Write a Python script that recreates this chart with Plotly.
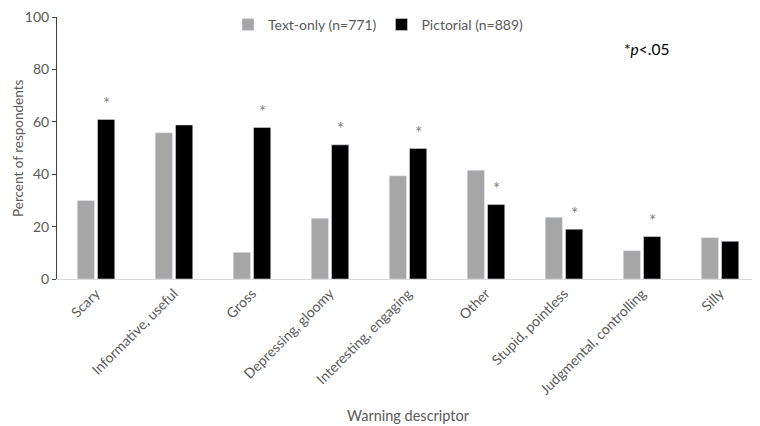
import plotly.graph_objects as go

categories = [
    "Scary", "Informative, useful", "Gross", "Depressing, gloomy",
    "Interesting, engaging", "Other", "Stupid, pointless",
    "Judgmental, controlling", "Silly",
]
text_only = [30.0, 55.8, 10.2, 23.2, 39.4, 41.5, 23.6, 10.8, 15.8]
pictorial = [60.9, 58.8, 57.8, 51.2, 49.8, 28.4, 19.0, 16.2, 14.4]
significant = [True, False, True, True, True, True, True, True, False]

_FONT = "Lato, 'Open Sans', sans-serif"
_GREY_TXT = "#595959"

fig = go.Figure()
fig.add_trace(go.Bar(
    x=categories, y=text_only, name="Text-only (n=771)",
    marker_color="#A6A6A6",
))
fig.add_trace(go.Bar(
    x=categories, y=pictorial, name="Pictorial (n=889)",
    marker_color="#000000",
))

# significance markers above the pictorial bars
for cat, val, sig in zip(categories, pictorial, significant):
    if not sig:
        continue
    fig.add_annotation(
        x=cat, y=val, text="*", showarrow=False,
        xshift=10, yshift=16,
        font=dict(family=_FONT, size=17, color="#808080"),
    )

fig.add_annotation(
    x=0.84, y=0.879, xref="paper", yref="paper", text="*<i>p</i>&lt;.05",
    showarrow=False, xanchor="center", yanchor="middle",
    font=dict(family=_FONT, size=15.5, color="#000000"),
)
# axis titles placed by hand so the rotated tick labels don't push them around
fig.add_annotation(
    x=0.5, y=-0.521, xref="paper", yref="paper", text="Warning descriptor",
    showarrow=False, xanchor="center", yanchor="middle",
    font=dict(family=_FONT, size=14.5, color=_GREY_TXT),
)
fig.add_annotation(
    x=-0.0556, y=0.5, xref="paper", yref="paper", text="Percent of respondents",
    showarrow=False, textangle=-90, xanchor="center", yanchor="middle",
    font=dict(family=_FONT, size=13.5, color=_GREY_TXT),
)

# the page body adds an 8px margin, so the figure is 8px smaller each way
fig.update_layout(
    width=752, height=418,
    margin=dict(l=49, r=1, t=6, b=147),
    paper_bgcolor="white", plot_bgcolor="white",
    barmode="group", bargap=0.48, bargroupgap=0.15,
    font=dict(family=_FONT, size=14, color=_GREY_TXT),
    legend=dict(
        orientation="h", x=0.458, xanchor="center", y=0.970, yanchor="middle",
        font=dict(family=_FONT, size=14, color=_GREY_TXT),
        bgcolor="rgba(0,0,0,0)", itemwidth=30,
    ),
    showlegend=True,
)
fig.update_xaxes(
    tickangle=-45, showgrid=False, showline=True, linecolor="#D9D9D9",
    linewidth=1, ticks="", tickfont=dict(size=14, color=_GREY_TXT),
    automargin=False,
)
fig.update_yaxes(
    range=[0, 100], dtick=20, showgrid=False, zeroline=False,
    showline=True, linecolor="#404040", linewidth=1,
    ticks="outside", ticklen=4, tickcolor="#404040",
    tickfont=dict(size=14, color=_GREY_TXT), ticklabeloverflow="allow",
    automargin=False,
)

fig.write_html("out.html")
